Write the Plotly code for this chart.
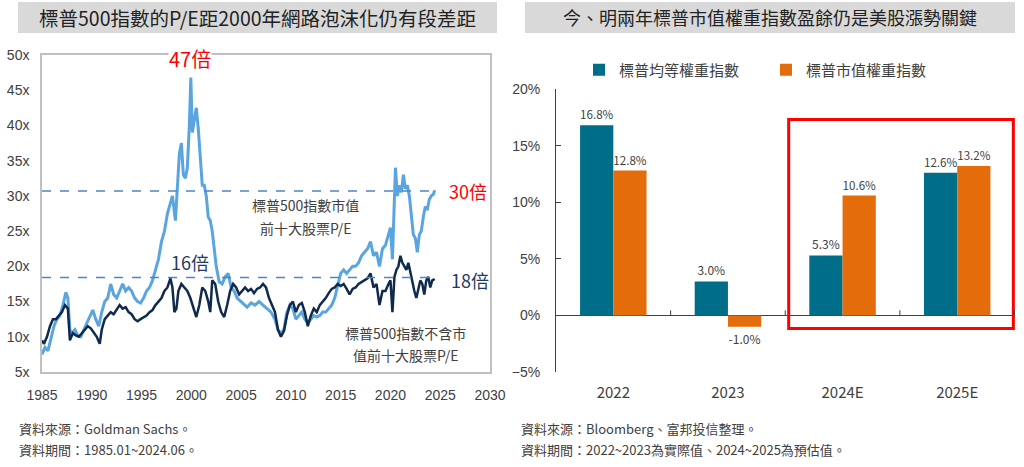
import plotly.graph_objects as go

W, H = 1024, 467
CJK = "Noto Sans CJK TC"
LAT = "Liberation Sans"

# 左圖：標普500指數 P/E（讀圖估計）
top10_year = [1985.0, 1985.3, 1985.6, 1985.9, 1986.2, 1986.5, 1986.8, 1987.1, 1987.4, 1987.6,
              1987.8, 1988.0, 1988.3, 1988.6, 1988.9, 1989.2, 1989.5, 1989.8, 1990.1, 1990.4,
              1990.7, 1991.0, 1991.3, 1991.6, 1991.9, 1992.2, 1992.5, 1992.8, 1993.1, 1993.4,
              1993.7, 1994.0, 1994.3, 1994.6, 1994.9, 1995.2, 1995.5, 1995.8, 1996.1, 1996.4,
              1996.7, 1997.0, 1997.3, 1997.6, 1997.9, 1998.1, 1998.4, 1998.6, 1998.8, 1999.0,
              1999.2, 1999.4, 1999.6, 1999.8, 1999.95, 2000.1, 2000.3, 2000.5, 2000.7, 2000.9,
              2001.1, 2001.3, 2001.5, 2001.7, 2001.9, 2002.1, 2002.3, 2002.5, 2002.8, 2003.1,
              2003.4, 2003.7, 2004.0, 2004.3, 2004.6, 2005.0, 2005.3, 2005.6, 2006.0, 2006.4,
              2006.8, 2007.2, 2007.6, 2008.0, 2008.4, 2008.7, 2009.0, 2009.3, 2009.6, 2009.9,
              2010.2, 2010.5, 2010.8, 2011.1, 2011.4, 2011.7, 2012.0, 2012.3, 2012.6, 2012.9,
              2013.2, 2013.5, 2013.8, 2014.1, 2014.4, 2014.7, 2015.0, 2015.3, 2015.6, 2015.9,
              2016.2, 2016.5, 2016.8, 2017.1, 2017.4, 2017.7, 2018.0, 2018.3, 2018.6, 2018.9,
              2019.2, 2019.5, 2019.8, 2020.0, 2020.2, 2020.35, 2020.5, 2020.7, 2020.9, 2021.1,
              2021.3, 2021.5, 2021.7, 2021.9, 2022.1, 2022.3, 2022.5, 2022.7, 2022.9, 2023.1,
              2023.3, 2023.5, 2023.7, 2023.9, 2024.1, 2024.3, 2024.45]
top10_pe = [7.5, 8.5, 8.0, 10.0, 11.5, 12.5, 13.0, 14.5, 16.3, 15.5,
            11.0, 10.5, 11.0, 10.2, 10.0, 11.0, 12.0, 13.0, 13.8, 12.5,
            11.5, 13.5, 15.0, 15.5, 17.5, 16.0, 15.5, 16.5, 17.5, 16.5,
            17.0, 16.5, 15.5, 15.0, 14.8, 15.5, 16.5, 17.0, 18.0, 19.5,
            21.0, 23.5, 25.0, 27.5, 29.0, 30.0, 26.5, 31.0, 36.0, 37.5,
            33.0, 32.5, 34.0, 40.0, 46.8, 39.0, 41.0, 42.5, 39.5, 36.0,
            31.5, 31.5, 30.0, 27.0, 26.5, 25.0, 22.5, 20.0, 17.8, 17.5,
            18.5, 19.0, 17.0, 16.5, 15.5, 15.0, 14.5, 14.2, 14.8, 14.5,
            15.0, 14.5, 14.0, 13.5, 12.5, 11.0, 10.5, 11.0, 13.5, 14.5,
            14.0, 12.5, 13.0, 13.5, 12.5, 12.0, 12.5, 13.0, 12.8, 13.0,
            13.5, 13.5, 14.0, 14.5, 15.5, 17.5, 19.0, 19.5, 19.0, 19.5,
            20.0, 20.0, 20.5, 21.5, 22.0, 22.5, 23.5, 21.5, 22.0, 20.0,
            22.5, 23.0, 24.5, 25.5, 21.0, 27.5, 34.0, 30.0, 31.5, 30.5,
            33.0, 31.0, 31.5, 30.0, 27.0, 24.5, 24.0, 22.0, 24.5, 25.0,
            27.0, 28.5, 28.0, 29.5, 30.0, 30.2, 30.8]

ex_top10_year = [1985.0, 1985.2, 1985.5, 1985.8, 1986.1, 1986.4, 1986.7, 1987.0, 1987.3, 1987.6,
                 1987.8, 1988.1, 1988.4, 1988.7, 1989.0, 1989.3, 1989.6, 1989.9, 1990.2, 1990.5,
                 1990.8, 1991.0, 1991.3, 1991.6, 1991.9, 1992.2, 1992.5, 1992.8, 1993.1, 1993.4,
                 1993.7, 1994.0, 1994.3, 1994.6, 1994.9, 1995.2, 1995.5, 1995.8, 1996.1, 1996.4,
                 1996.7, 1997.0, 1997.3, 1997.6, 1997.9, 1998.1, 1998.3, 1998.5, 1998.7, 1999.0,
                 1999.3, 1999.6, 1999.9, 2000.2, 2000.5, 2000.8, 2001.1, 2001.4, 2001.7, 2001.9,
                 2002.1, 2002.4, 2002.7, 2003.0, 2003.3, 2003.6, 2003.9, 2004.2, 2004.5, 2004.8,
                 2005.1, 2005.4, 2005.7, 2006.0, 2006.3, 2006.6, 2006.9, 2007.2, 2007.5, 2007.8,
                 2008.1, 2008.4, 2008.7, 2009.0, 2009.3, 2009.6, 2009.9, 2010.2, 2010.5, 2010.8,
                 2011.1, 2011.4, 2011.7, 2012.0, 2012.3, 2012.6, 2012.9, 2013.2, 2013.5, 2013.8,
                 2014.1, 2014.4, 2014.7, 2015.0, 2015.3, 2015.6, 2015.9, 2016.2, 2016.5, 2016.8,
                 2017.1, 2017.4, 2017.7, 2018.0, 2018.3, 2018.6, 2018.9, 2019.2, 2019.5, 2019.8,
                 2020.0, 2020.2, 2020.4, 2020.6, 2020.8, 2021.0, 2021.2, 2021.4, 2021.6, 2021.8,
                 2022.0, 2022.2, 2022.4, 2022.6, 2022.8, 2023.0, 2023.2, 2023.4, 2023.6, 2023.8,
                 2024.0, 2024.2, 2024.45]
ex_top10_pe = [9.5, 9.0, 10.0, 11.5, 12.5, 12.5, 13.0, 13.5, 14.5, 14.0,
               9.5, 10.5, 10.2, 10.0, 10.5, 11.0, 11.5, 11.2, 10.5, 10.0,
               9.0, 11.0, 12.5, 13.0, 13.5, 13.2, 13.8, 14.5, 14.0, 14.2,
               13.5, 13.2, 12.5, 12.2, 12.5, 12.8, 13.0, 13.5, 13.8, 14.5,
               15.0, 15.5, 16.5, 17.0, 18.3, 17.0, 13.5, 14.0, 16.5, 17.5,
               17.0, 16.5, 15.5, 14.0, 12.8, 14.5, 17.0, 16.5, 15.0, 13.5,
               18.0, 17.5, 15.0, 13.5, 12.8, 14.5, 16.5, 17.5, 17.0, 16.0,
               16.5, 17.0, 16.5, 16.8, 16.2, 16.8, 17.0, 17.5, 17.0, 15.5,
               14.5, 13.5, 11.0, 10.0, 10.8, 13.0, 14.5, 15.0, 13.5, 14.5,
               14.8, 13.5, 11.5, 13.0, 14.0, 13.5, 14.5, 15.0, 15.5, 16.2,
               16.8, 17.0, 17.5, 17.2, 17.5, 16.8, 16.0, 16.8, 17.0, 17.5,
               17.8, 18.0, 18.3, 19.0, 17.0, 17.5, 14.5, 16.5, 16.5, 17.5,
               18.0, 13.5, 18.5, 19.5, 20.0, 21.5, 20.5, 20.0, 19.5, 20.5,
               19.0, 17.5, 16.5, 15.5, 17.0, 18.0, 17.5, 16.0, 18.0, 18.5,
               17.0, 18.0, 18.2]

ref_top10 = 30.7
ref_ex_top10 = 18.4
ref_end = 2024.45

# 右圖：盈餘成長率
years = ["2022", "2023", "2024E", "2025E"]
equal_weight = [16.8, 3.0, 5.3, 12.6]
cap_weight = [12.8, -1.0, 10.6, 13.2]

fig = go.Figure()

fig.add_trace(go.Scatter(x=top10_year, y=top10_pe, mode="lines",
                         line=dict(color="#5aa5df", width=3), showlegend=False,
                         xaxis="x", yaxis="y"))
fig.add_trace(go.Scatter(x=ex_top10_year, y=ex_top10_pe, mode="lines",
                         line=dict(color="#0f2a4c", width=2.5), showlegend=False,
                         xaxis="x", yaxis="y"))

fig.add_trace(go.Bar(x=years, y=equal_weight, name="標普均等權重指數",
                     marker=dict(color="#006d89", line=dict(width=0)),
                     texttemplate="%{y:.1f}%", textposition="outside",
                     textfont=dict(family=CJK, size=12, color="#404040"),
                     cliponaxis=False, xaxis="x2", yaxis="y2"))
fig.add_trace(go.Bar(x=years, y=cap_weight, name="標普市值權重指數",
                     marker=dict(color="#e46c0a", line=dict(width=0)),
                     texttemplate="%{y:.1f}%", textposition="outside",
                     textfont=dict(family=CJK, size=12, color="#404040"),
                     cliponaxis=False, xaxis="x2", yaxis="y2"))

shapes = [
    dict(type="rect", xref="paper", yref="paper", x0=18 / W, x1=497 / W,
         y0=1 - 33 / H, y1=1 - 2 / H, fillcolor="#d9d9d9", line=dict(width=0), layer="below"),
    dict(type="rect", xref="paper", yref="paper", x0=525 / W, x1=1015 / W,
         y0=1 - 33 / H, y1=1 - 2 / H, fillcolor="#d9d9d9", line=dict(width=0), layer="below"),
    dict(type="line", xref="x", yref="y", x0=1985, x1=ref_end, y0=ref_top10, y1=ref_top10,
         line=dict(color="#4a86c8", width=1.5, dash="dash")),
    dict(type="line", xref="x", yref="y", x0=1985, x1=ref_end, y0=ref_ex_top10, y1=ref_ex_top10,
         line=dict(color="#4a86c8", width=1.5, dash="dash")),
    dict(type="rect", xref="x2", yref="y2", x0=1.53, x1=3.49, y0=-1.15, y1=17.3,
         line=dict(color="#ff0000", width=3)),
]
for i in range(len(years)):
    shapes.append(dict(type="line", xref="x2", yref="y2", x0=i + 0.5, x1=i + 0.5,
                       y0=0, y1=0.45, line=dict(color="#404040", width=1)))

annotations = [
    dict(text="標普500指數的P/E距2000年網路泡沫化仍有段差距", x=257 / W, y=1 - 17 / H,
         font=dict(family=CJK, size=19.5, color="#222222")),
    dict(text="今、明兩年標普市值權重指數盈餘仍是美股漲勢關鍵", x=770 / W, y=1 - 17 / H,
         font=dict(family=CJK, size=18, color="#222222")),
    dict(text="47倍", x=190 / W, y=1 - 58 / H, bgcolor="white",
         font=dict(family=CJK, size=20, color="#ff0000")),
    dict(text="16倍", x=190 / W, y=1 - 262 / H,
         font=dict(family=CJK, size=18, color="#1f3b66")),
    dict(text="30倍", x=468 / W, y=1 - 191 / H, bgcolor="white",
         font=dict(family=CJK, size=18, color="#ff0000")),
    dict(text="18倍", x=470 / W, y=1 - 280 / H, bgcolor="white",
         font=dict(family=CJK, size=18, color="#1f3b66")),
    dict(text="標普500指數市值", x=305 / W, y=1 - 205 / H,
         font=dict(family=CJK, size=14, color="#404040")),
    dict(text="前十大股票P/E", x=305 / W, y=1 - 228 / H,
         font=dict(family=CJK, size=14, color="#404040")),
    dict(text="標普500指數不含市", x=405 / W, y=1 - 333 / H,
         font=dict(family=CJK, size=14, color="#404040")),
    dict(text="值前十大股票P/E", x=405 / W, y=1 - 355 / H,
         font=dict(family=CJK, size=14, color="#404040")),
    dict(text="資料來源：Goldman Sachs。", x=18 / W, y=1 - 428 / H, xanchor="left",
         font=dict(family=CJK, size=13, color="#404040")),
    dict(text="資料期間：1985.01~2024.06。", x=18 / W, y=1 - 449 / H, xanchor="left",
         font=dict(family=CJK, size=13, color="#404040")),
    dict(text="資料來源：Bloomberg、富邦投信整理。", x=520 / W, y=1 - 428 / H, xanchor="left",
         font=dict(family=CJK, size=13, color="#404040")),
    dict(text="資料期間：2022~2023為實際值、2024~2025為預估值。", x=520 / W, y=1 - 449 / H,
         xanchor="left", font=dict(family=CJK, size=13, color="#404040")),
]
for a in annotations:
    a.setdefault("xref", "paper")
    a.setdefault("yref", "paper")
    a.setdefault("showarrow", False)
    a.setdefault("xanchor", "center")
    a.setdefault("yanchor", "middle")
    a.setdefault("borderpad", 0)

fig.update_layout(
    width=W, height=H,
    margin=dict(l=0, r=0, t=0, b=0, autoexpand=False),
    paper_bgcolor="white", plot_bgcolor="white",
    barmode="group", bargap=0.42, bargroupgap=0,
    shapes=shapes, annotations=annotations,
    legend=dict(orientation="h", x=766 / W, y=1 - 70 / H, xanchor="center", yanchor="middle",
                font=dict(family=CJK, size=15, color="#404040"),
                itemwidth=30, entrywidth=142),
    xaxis=dict(domain=[42 / W, 490 / W], range=[1985, 2030], dtick=5, tick0=1985,
               showgrid=False, zeroline=False, showline=True, mirror=True, automargin=False,
               linecolor="#c0c0c0", linewidth=1.5, ticks="", ticklabelstandoff=9,
               tickfont=dict(family=LAT, size=14, color="#404040")),
    yaxis=dict(domain=[(H - 372) / H, (H - 55) / H], range=[5, 50], dtick=5,
               ticksuffix="x", showgrid=False, zeroline=False, showline=True, mirror=True,
               automargin=False, linecolor="#c0c0c0", linewidth=1.5, ticks="",
               ticklabelstandoff=8,
               tickfont=dict(family=LAT, size=14, color="#404040")),
    xaxis2=dict(domain=[556 / W, 1015 / W], anchor="y2", showgrid=False, showline=False,
                automargin=False, ticks="", ticklabelstandoff=10,
                tickfont=dict(family=CJK, size=15, color="#404040")),
    yaxis2=dict(domain=[(H - 372) / H, (H - 89) / H], anchor="x2", range=[-5, 20], dtick=5,
                ticksuffix="%", showgrid=False, showline=True, linecolor="#404040",
                automargin=False, linewidth=1, ticks="inside", ticklen=5, tickcolor="#404040",
                zeroline=True, zerolinecolor="#404040", zerolinewidth=1,
                ticklabelstandoff=12,
                tickfont=dict(family=LAT, size=14, color="#404040")),
)

# 頁面預設 body margin 會讓圖偏移 8px
fig.write_html("out.html", config={"displayModeBar": False},
               post_script="document.body.style.margin='0px';")
